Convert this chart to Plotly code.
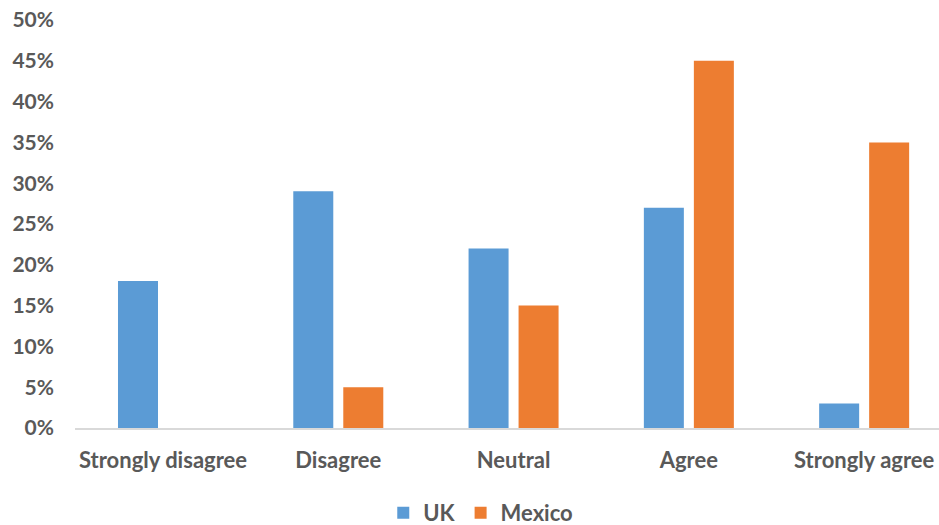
import plotly.graph_objects as go

categories = ["Strongly disagree", "Disagree", "Neutral", "Agree", "Strongly agree"]
uk_values = [0.18, 0.29, 0.22, 0.27, 0.03]
mexico_values = [0.0, 0.05, 0.15, 0.45, 0.35]
tick_values = [0, 0.05, 0.10, 0.15, 0.20, 0.25, 0.30, 0.35, 0.40, 0.45, 0.50]
tick_labels = ["0%", "5%", "10%", "15%", "20%", "25%", "30%", "35%", "40%", "45%", "50%"]

base = dict(family="Lato, 'Open Sans', sans-serif", color="#595959", weight="bold")
x_font = dict(base, size=22)
y_font = dict(base, size=21)
legend_font = dict(base, size=22)

fig = go.Figure()
fig.add_trace(go.Bar(name="UK", x=categories, y=uk_values, marker_color="#5B9BD5", marker_line_width=0))
fig.add_trace(go.Bar(name="Mexico", x=categories, y=mexico_values, marker_color="#ED7D31", marker_line_width=0))

fig.update_layout(
    width=939, height=525,
    margin=dict(l=75, r=0, t=20, b=97, autoexpand=False),
    paper_bgcolor="white", plot_bgcolor="white",
    barmode="group", bargap=0.4295, bargroupgap=0.2,
    font=x_font,
    showlegend=True,
    legend=dict(orientation="h", xref="container", x=0.512, xanchor="center",
                yref="paper", y=-0.208, yanchor="middle",
                font=legend_font, itemwidth=30, traceorder="normal"),
)
fig.update_xaxes(range=[-0.502, 4.427], showline=True, linecolor="#D9D9D9", linewidth=1.5,
                 ticks="", tickfont=x_font, ticklabelstandoff=12, showgrid=False,
                 tickangle=0, automargin=False)
fig.update_yaxes(range=[0, 0.5], tickvals=tick_values, ticktext=tick_labels,
                 showgrid=False, zeroline=False, showline=False, ticks="",
                 tickfont=y_font, ticklabelstandoff=20, automargin=False)

fig.write_html("out.html")
